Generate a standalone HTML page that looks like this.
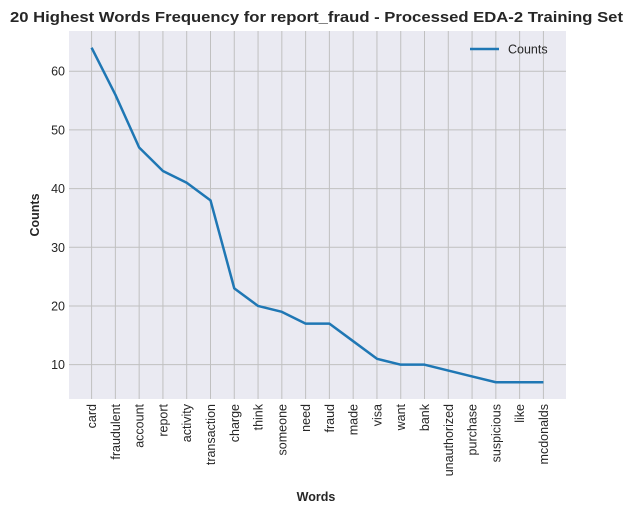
<!DOCTYPE html>
<html><head><meta charset="utf-8"><style>
body{margin:0;background:#fff;}
svg{display:block;font-family:"Liberation Sans",Arial,sans-serif;}
</style></head><body>
<svg id="c" width="633" height="514"></svg>
<script>
const categories=["card","fraudulent","account","report","activity","transaction","charge","think","someone","need","fraud","made","visa","want","bank","unauthorized","purchase","suspicious","like","mcdonalds"];
const counts=[64,56,47,43,41,38,23,20,19,17,17,14,11,10,10,9,8,7,7,7];
const yTicks=[10,20,30,40,50,60];
const L=69,R=566,T=31,B=399;
const n=categories.length;
const pad=(n-1)*0.05;
const x=i=>L+(i+pad)/(n-1+2*pad)*(R-L);
const mn=Math.min(...counts),mx=Math.max(...counts),yp=(mx-mn)*0.05;
const y0=mn-yp,y1=mx+yp;
const y=v=>B-(v-y0)/(y1-y0)*(B-T);
const s=document.getElementById('c');
const NS="http://www.w3.org/2000/svg";
function mk(t,a,p){const e=document.createElementNS(NS,t);for(const k in a)e.setAttribute(k,a[k]);(p||s).appendChild(e);return e;}
let e=mk('rect',{x:L,y:T,width:R-L,height:B-T,fill:'#eaeaf2'});


categories.forEach((c,i)=>{
 let g=mk('line',{x1:x(i),x2:x(i),y1:T,y2:B,stroke:'#c0c0c0','stroke-width':1});
 
 
 let t=mk('text',{x:0,y:0,transform:`translate(${x(i)+4.5},404) rotate(-90)`,'text-anchor':'end','font-size':12.5,fill:'#262626'});
 t.textContent=c;
 
 
});
yTicks.forEach(v=>{
 let g=mk('line',{x1:L,x2:R,y1:y(v),y2:y(v),stroke:'#c0c0c0','stroke-width':1});
 
 
 let t=mk('text',{x:L-4,y:y(v)+4.5,'text-anchor':'end','font-size':12.5,fill:'#262626'});
 t.textContent=v;
 
 
});
let p=mk('polyline',{points:counts.map((v,i)=>x(i)+','+y(v)).join(' '),fill:'none',stroke:'#1f77b4','stroke-width':2.5,'stroke-linejoin':'round'});


let lg=mk('g',{});


mk('line',{x1:470,x2:499,y1:49,y2:49,stroke:'#1f77b4','stroke-width':2.5},lg);
let lt=mk('text',{x:508,y:53.5,'font-size':12.5,fill:'#262626'},lg);lt.textContent='Counts';
let ti=mk('text',{x:10,y:22,'font-size':15,'font-weight':'bold',fill:'#262626',textLength:613,lengthAdjust:'spacingAndGlyphs'});
ti.textContent='20 Highest Words Frequency for report_fraud - Processed EDA-2 Training Set';


let xt=mk('text',{x:316,y:501,'text-anchor':'middle','font-size':12.5,'font-weight':'bold',fill:'#262626'});
xt.textContent='Words';


let yt=mk('text',{x:0,y:0,transform:'translate(39,215) rotate(-90)','text-anchor':'middle','font-size':12.5,'font-weight':'bold',fill:'#262626'});
yt.textContent='Counts';


</script>
</body></html>
